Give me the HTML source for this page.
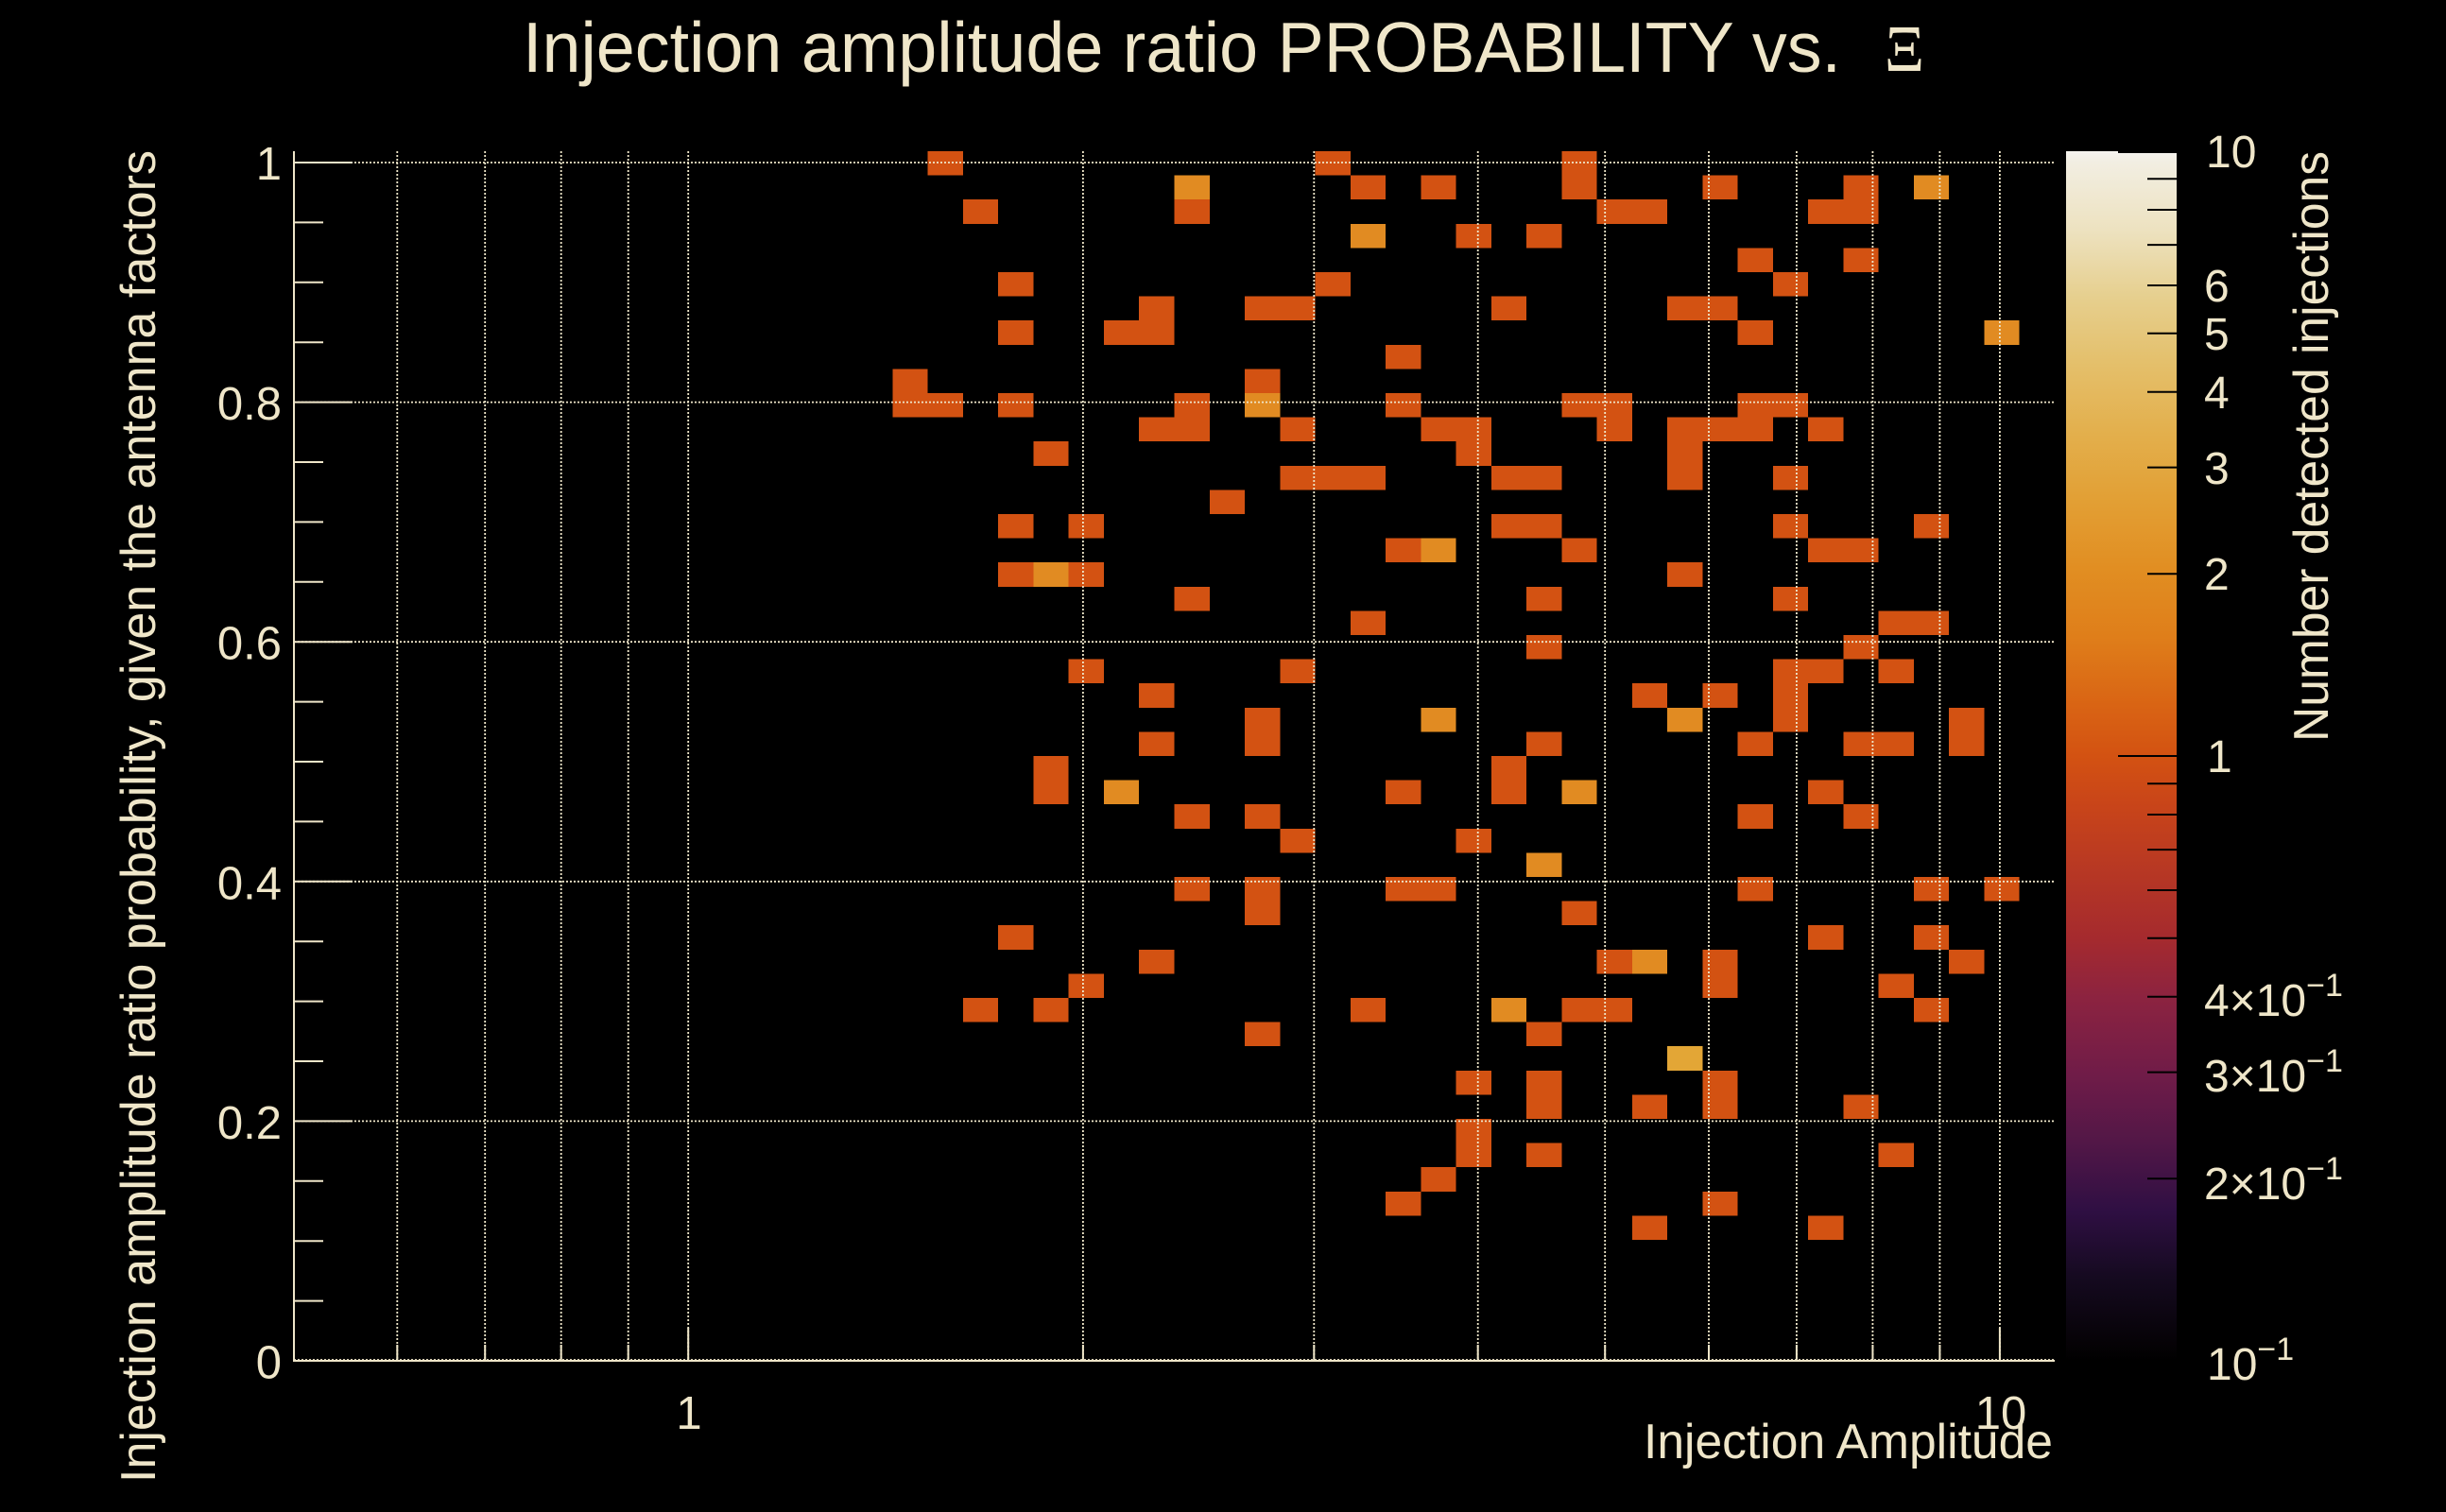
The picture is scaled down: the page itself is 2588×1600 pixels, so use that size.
<!DOCTYPE html>
<html>
<head>
<meta charset="utf-8">
<style>
html,body{margin:0;padding:0;background:#000;}
svg{display:block;}
text{font-family:"Liberation Sans",Arial,sans-serif;fill:#EFE6C9;}
</style>
</head>
<body>
<svg width="2588" height="1600" viewBox="0 0 2588 1600" xmlns="http://www.w3.org/2000/svg">
<defs>
<linearGradient id="pal" x1="0" y1="0" x2="0" y2="1">
<stop offset="0" stop-color="#F6F4F0"/>
<stop offset="0.009" stop-color="#F2EEE2"/>
<stop offset="0.065" stop-color="#EDE2C0"/>
<stop offset="0.121" stop-color="#E6CF8E"/>
<stop offset="0.177" stop-color="#E4BF6A"/>
<stop offset="0.234" stop-color="#E3AF4C"/>
<stop offset="0.290" stop-color="#E29F34"/>
<stop offset="0.345" stop-color="#E18E22"/>
<stop offset="0.402" stop-color="#DF7E1A"/>
<stop offset="0.458" stop-color="#D96414"/>
<stop offset="0.5" stop-color="#D35212"/>
<stop offset="0.539" stop-color="#C94519"/>
<stop offset="0.651" stop-color="#A52A2E"/>
<stop offset="0.7" stop-color="#8C2340"/>
<stop offset="0.763" stop-color="#701C48"/>
<stop offset="0.82" stop-color="#521747"/>
<stop offset="0.876" stop-color="#2F0F43"/>
<stop offset="0.931" stop-color="#150A20"/>
<stop offset="0.988" stop-color="#050205"/>
<stop offset="1" stop-color="#000000"/>
</linearGradient>
</defs>

<!-- Title -->
<text x="553" y="76" font-size="75" textLength="1395" lengthAdjust="spacingAndGlyphs">Injection amplitude ratio PROBABILITY vs.</text>
<text x="1994" y="75" font-size="70" style="font-family:'Liberation Serif',serif" textLength="42" lengthAdjust="spacingAndGlyphs">Ξ</text>

<!-- Histogram cells -->
<svg x="311" y="160" width="1863" height="1280" viewBox="0 0 50 50" preserveAspectRatio="none" shape-rendering="crispEdges">
<g fill="#D35212">
<rect x="18" y="0" width="1" height="1"/><rect x="29" y="0" width="1" height="1"/><rect x="30" y="1" width="1" height="1"/><rect x="32" y="1" width="1" height="1"/>
<rect x="19" y="2" width="1" height="1"/><rect x="25" y="2" width="1" height="1"/><rect x="20" y="5" width="1" height="1"/><rect x="29" y="5" width="1" height="1"/>
<rect x="24" y="6" width="1" height="1"/><rect x="27" y="6" width="1" height="1"/><rect x="28" y="6" width="1" height="1"/><rect x="20" y="7" width="1" height="1"/>
<rect x="23" y="7" width="1" height="1"/><rect x="24" y="7" width="1" height="1"/><rect x="31" y="8" width="1" height="1"/><rect x="17" y="9" width="1" height="1"/>
<rect x="27" y="9" width="1" height="1"/><rect x="17" y="10" width="1" height="1"/><rect x="18" y="10" width="1" height="1"/><rect x="20" y="10" width="1" height="1"/>
<rect x="25" y="10" width="1" height="1"/><rect x="31" y="10" width="1" height="1"/><rect x="24" y="11" width="1" height="1"/><rect x="25" y="11" width="1" height="1"/>
<rect x="28" y="11" width="1" height="1"/><rect x="32" y="11" width="1" height="1"/><rect x="21" y="12" width="1" height="1"/><rect x="28" y="13" width="1" height="1"/>
<rect x="29" y="13" width="1" height="1"/><rect x="30" y="13" width="1" height="1"/><rect x="26" y="14" width="1" height="1"/><rect x="20" y="15" width="1" height="1"/>
<rect x="22" y="15" width="1" height="1"/><rect x="31" y="16" width="1" height="1"/><rect x="20" y="17" width="1" height="1"/><rect x="22" y="17" width="1" height="1"/>
<rect x="25" y="18" width="1" height="1"/><rect x="30" y="19" width="1" height="1"/><rect x="22" y="21" width="1" height="1"/><rect x="28" y="21" width="1" height="1"/>
<rect x="24" y="22" width="1" height="1"/><rect x="27" y="23" width="1" height="1"/><rect x="27" y="24" width="1" height="1"/><rect x="24" y="24" width="1" height="1"/>

<rect x="36" y="0" width="1" height="1"/><rect x="36" y="1" width="1" height="1"/><rect x="40" y="1" width="1" height="1"/><rect x="44" y="1" width="1" height="1"/>
<rect x="44" y="2" width="1" height="1"/><rect x="37" y="2" width="1" height="1"/><rect x="38" y="2" width="1" height="1"/><rect x="43" y="2" width="1" height="1"/>
<rect x="33" y="3" width="1" height="1"/><rect x="35" y="3" width="1" height="1"/><rect x="41" y="4" width="1" height="1"/><rect x="44" y="4" width="1" height="1"/>
<rect x="42" y="5" width="1" height="1"/><rect x="34" y="6" width="1" height="1"/><rect x="39" y="6" width="1" height="1"/><rect x="40" y="6" width="1" height="1"/>
<rect x="41" y="7" width="1" height="1"/><rect x="36" y="10" width="1" height="1"/><rect x="37" y="10" width="1" height="1"/><rect x="41" y="10" width="1" height="1"/>
<rect x="42" y="10" width="1" height="1"/><rect x="33" y="11" width="1" height="1"/><rect x="33" y="12" width="1" height="1"/><rect x="37" y="11" width="1" height="1"/>
<rect x="39" y="11" width="1" height="1"/><rect x="40" y="11" width="1" height="1"/><rect x="41" y="11" width="1" height="1"/><rect x="43" y="11" width="1" height="1"/>
<rect x="39" y="12" width="1" height="1"/><rect x="39" y="13" width="1" height="1"/><rect x="34" y="13" width="1" height="1"/><rect x="35" y="13" width="1" height="1"/>
<rect x="42" y="13" width="1" height="1"/><rect x="34" y="15" width="1" height="1"/><rect x="35" y="15" width="1" height="1"/><rect x="42" y="15" width="1" height="1"/>
<rect x="46" y="15" width="1" height="1"/><rect x="36" y="16" width="1" height="1"/><rect x="43" y="16" width="1" height="1"/><rect x="44" y="16" width="1" height="1"/>
<rect x="39" y="17" width="1" height="1"/><rect x="35" y="18" width="1" height="1"/><rect x="42" y="18" width="1" height="1"/><rect x="45" y="19" width="1" height="1"/>
<rect x="46" y="19" width="1" height="1"/><rect x="35" y="20" width="1" height="1"/><rect x="44" y="20" width="1" height="1"/><rect x="42" y="21" width="1" height="1"/>
<rect x="43" y="21" width="1" height="1"/><rect x="45" y="21" width="1" height="1"/><rect x="38" y="22" width="1" height="1"/><rect x="40" y="22" width="1" height="1"/>
<rect x="42" y="22" width="1" height="1"/><rect x="42" y="23" width="1" height="1"/><rect x="47" y="23" width="1" height="1"/><rect x="47" y="24" width="1" height="1"/>
<rect x="35" y="24" width="1" height="1"/><rect x="41" y="24" width="1" height="1"/><rect x="44" y="24" width="1" height="1"/><rect x="45" y="24" width="1" height="1"/>

<rect x="21" y="25" width="1" height="1"/><rect x="21" y="26" width="1" height="1"/><rect x="31" y="26" width="1" height="1"/><rect x="25" y="27" width="1" height="1"/>
<rect x="27" y="27" width="1" height="1"/><rect x="28" y="28" width="1" height="1"/><rect x="25" y="30" width="1" height="1"/><rect x="27" y="30" width="1" height="1"/>
<rect x="27" y="31" width="1" height="1"/><rect x="31" y="30" width="1" height="1"/><rect x="32" y="30" width="1" height="1"/><rect x="20" y="32" width="1" height="1"/>
<rect x="24" y="33" width="1" height="1"/><rect x="22" y="34" width="1" height="1"/><rect x="19" y="35" width="1" height="1"/><rect x="21" y="35" width="1" height="1"/>
<rect x="30" y="35" width="1" height="1"/><rect x="27" y="36" width="1" height="1"/><rect x="32" y="42" width="1" height="1"/><rect x="31" y="43" width="1" height="1"/>

<rect x="34" y="25" width="1" height="1"/><rect x="34" y="26" width="1" height="1"/><rect x="43" y="26" width="1" height="1"/><rect x="41" y="27" width="1" height="1"/>
<rect x="44" y="27" width="1" height="1"/><rect x="33" y="28" width="1" height="1"/><rect x="41" y="30" width="1" height="1"/><rect x="46" y="30" width="1" height="1"/>
<rect x="48" y="30" width="1" height="1"/><rect x="36" y="31" width="1" height="1"/><rect x="43" y="32" width="1" height="1"/><rect x="46" y="32" width="1" height="1"/>
<rect x="37" y="33" width="1" height="1"/><rect x="40" y="33" width="1" height="1"/><rect x="40" y="34" width="1" height="1"/><rect x="47" y="33" width="1" height="1"/>
<rect x="45" y="34" width="1" height="1"/><rect x="36" y="35" width="1" height="1"/><rect x="37" y="35" width="1" height="1"/><rect x="46" y="35" width="1" height="1"/>
<rect x="35" y="36" width="1" height="1"/><rect x="33" y="38" width="1" height="1"/><rect x="35" y="38" width="1" height="1"/><rect x="35" y="39" width="1" height="1"/>
<rect x="40" y="38" width="1" height="1"/><rect x="40" y="39" width="1" height="1"/><rect x="38" y="39" width="1" height="1"/><rect x="44" y="39" width="1" height="1"/>
<rect x="33" y="40" width="1" height="1"/><rect x="33" y="41" width="1" height="1"/><rect x="35" y="41" width="1" height="1"/><rect x="45" y="41" width="1" height="1"/>
<rect x="40" y="43" width="1" height="1"/><rect x="38" y="44" width="1" height="1"/><rect x="43" y="44" width="1" height="1"/>
</g>
<g fill="#E18B22">
<rect x="25" y="1" width="1" height="1"/><rect x="30" y="3" width="1" height="1"/><rect x="27" y="10" width="1" height="1"/><rect x="32" y="16" width="1" height="1"/>
<rect x="21" y="17" width="1" height="1"/><rect x="32" y="23" width="1" height="1"/><rect x="46" y="1" width="1" height="1"/><rect x="48" y="7" width="1" height="1"/>
<rect x="39" y="23" width="1" height="1"/><rect x="23" y="26" width="1" height="1"/><rect x="36" y="26" width="1" height="1"/><rect x="35" y="29" width="1" height="1"/>
<rect x="38" y="33" width="1" height="1"/><rect x="34" y="35" width="1" height="1"/>
</g>
<g fill="#E3A636">
<rect x="39" y="37" width="1" height="1"/>
</g>
</svg>

<!-- Grid -->
<g stroke="#EFE6C9" stroke-width="1.8" stroke-dasharray="2 2" fill="none">
<path d="M420.3 160V1440M513.2 160V1440M593.7 160V1440M664.7 160V1440M728.2 160V1440M1145.9 160V1440M1390.3 160V1440M1563.7 160V1440M1698.2 160V1440M1808 160V1440M1900.9 160V1440M1981.4 160V1440M2052.4 160V1440M2115.9 160V1440"/>
<path d="M311 172H2174M311 425.6H2174M311 679.2H2174M311 932.8H2174M311 1186.4H2174M311 1439H2174"/>
</g>

<!-- Axes -->
<g stroke="#EFE6C9" stroke-width="2" fill="none">
<path d="M311 160V1441"/>
<path d="M310 1440H2174"/>
<!-- y major ticks -->
<path d="M311 172H373M311 425.6H373M311 679.2H373M311 932.8H373M311 1186.4H373M311 1440H373"/>
<!-- y minor ticks -->
<path d="M311 235.4H342M311 298.8H342M311 362.2H342M311 489H342M311 552.4H342M311 615.8H342M311 742.6H342M311 806H342M311 869.4H342M311 996.2H342M311 1059.6H342M311 1123H342M311 1249.8H342M311 1313.2H342M311 1376.6H342"/>
<!-- x ticks -->
<path d="M728.2 1440V1405M2115.9 1440V1405"/>
<path d="M420.3 1440V1423M513.2 1440V1423M593.7 1440V1423M664.7 1440V1423M1145.9 1440V1423M1390.3 1440V1423M1563.7 1440V1423M1698.2 1440V1423M1808 1440V1423M1900.9 1440V1423M1981.4 1440V1423M2052.4 1440V1423"/>
</g>

<!-- Y tick labels -->
<g font-size="49" text-anchor="end">
<text x="298" y="190">1</text>
<text x="298" y="444">0.8</text>
<text x="298" y="697.7">0.6</text>
<text x="298" y="951.3">0.4</text>
<text x="298" y="1205">0.2</text>
<text x="298" y="1458.5">0</text>
</g>

<!-- X tick labels -->
<g font-size="49" text-anchor="middle">
<text x="729" y="1512">1</text>
<text x="2117" y="1512">10</text>
</g>

<!-- Axis titles -->
<text x="2172" y="1543" font-size="52" text-anchor="end" textLength="433" lengthAdjust="spacingAndGlyphs">Injection Amplitude</text>
<text transform="translate(164,1569) rotate(-90)" font-size="52" textLength="1410" lengthAdjust="spacingAndGlyphs">Injection amplitude ratio probability, given the antenna factors</text>

<!-- Colorbar -->
<rect x="2186" y="160" width="117" height="1280" fill="url(#pal)"/>
<g stroke="#000" stroke-width="2" fill="none">
<path d="M2241 161H2303M2241 800H2303"/>
<path d="M2272 189.3H2303M2272 222H2303M2272 259.1H2303M2272 302H2303M2272 352.7H2303M2272 414.7H2303M2272 494.6H2303M2272 607.3H2303M2272 829.3H2303M2272 862H2303M2272 899.1H2303M2272 942H2303M2272 992.7H2303M2272 1054.7H2303M2272 1134.6H2303M2272 1247.3H2303"/>
</g>
<g font-size="48">
<text x="2334" y="177">10</text>
<text x="2332" y="319">6</text>
<text x="2332" y="370">5</text>
<text x="2332" y="432">4</text>
<text x="2332" y="512">3</text>
<text x="2332" y="624">2</text>
<text x="2335" y="817">1</text>
<text x="2332" y="1075">4×10<tspan dy="-21" font-size="34">−1</tspan></text>
<text x="2332" y="1155">3×10<tspan dy="-21" font-size="34">−1</tspan></text>
<text x="2332" y="1269">2×10<tspan dy="-21" font-size="34">−1</tspan></text>
<text x="2335" y="1460">10<tspan dy="-21" font-size="34">−1</tspan></text>
</g>
<text transform="translate(2463,785) rotate(-90)" font-size="52" textLength="625" lengthAdjust="spacingAndGlyphs">Number detected injections</text>
</svg>
</body>
</html>
